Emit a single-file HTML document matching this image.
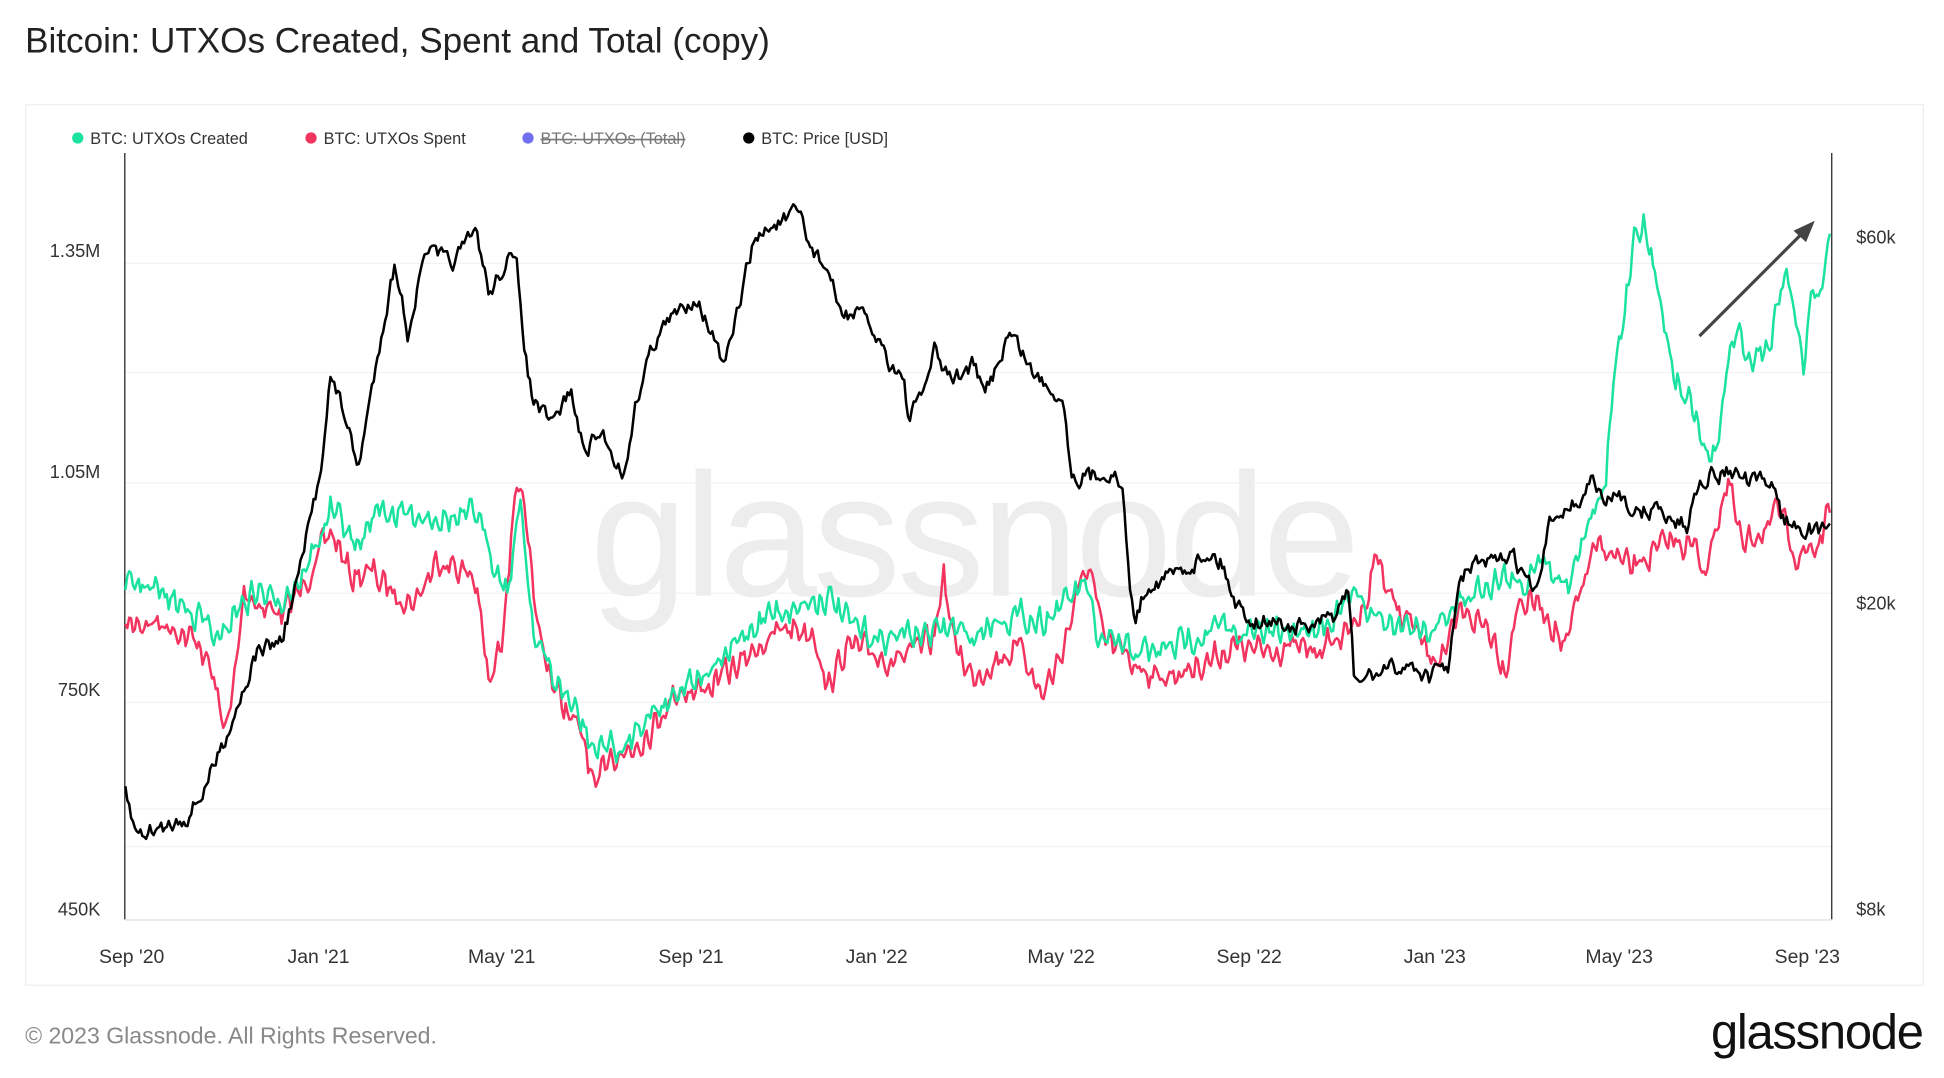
<!DOCTYPE html>
<html><head><meta charset="utf-8"><style>
html,body{margin:0;padding:0;background:#fff;width:1944px;height:1078px;overflow:hidden}
svg{display:block}
text{font-family:"Liberation Sans",sans-serif}
</style></head><body>
<svg id="s" width="1944" height="1078" viewBox="0 0 1550 859.5" preserveAspectRatio="none">
<text x="20" y="42" font-size="28" fill="#222">Bitcoin: UTXOs Created, Spent and Total (copy)</text>
<rect x="20.5" y="83.5" width="1513" height="702" fill="#fff" stroke="#eee"/>
<g font-size="13" fill="#333">
<circle cx="62" cy="110" r="4.5" fill="#1be2a0"/><text x="72" y="115">BTC: UTXOs Created</text>
<circle cx="248" cy="110" r="4.5" fill="#f2345f"/><text x="258" y="115">BTC: UTXOs Spent</text>
<circle cx="421" cy="110" r="4.5" fill="#6f6fef"/><text x="431" y="115" fill="#777" text-decoration="line-through">BTC: UTXOs (Total)</text>
<circle cx="597" cy="110" r="4.5" fill="#000"/><text x="607" y="115">BTC: Price [USD]</text>
</g>
<g stroke="#f2f2f2" stroke-width="1">
<line x1="100" x2="1460" y1="210" y2="210"/><line x1="100" x2="1460" y1="297" y2="297"/>
<line x1="100" x2="1460" y1="385" y2="385"/><line x1="100" x2="1460" y1="473" y2="473"/>
<line x1="100" x2="1460" y1="560" y2="560"/><line x1="100" x2="1460" y1="645" y2="645"/>
<line x1="100" x2="1460" y1="675" y2="675"/>
</g>
<text x="776" y="475" font-size="140" fill="#ededed" text-anchor="middle" letter-spacing="-3">glassnode</text>
<line x1="99.5" y1="122" x2="99.5" y2="733" stroke="#222"/>
<line x1="1460.5" y1="122" x2="1460.5" y2="733" stroke="#222"/>
<line x1="100" y1="733.5" x2="1460" y2="733.5" stroke="#ddd"/>
<g font-size="14.5" fill="#333" text-anchor="end">
<text x="80" y="205">1.35M</text><text x="80" y="381">1.05M</text><text x="80" y="555">750K</text><text x="80" y="730">450K</text>
</g>
<g font-size="14.5" fill="#333">
<text x="1480" y="194">$60k</text><text x="1480" y="486">$20k</text><text x="1480" y="730">$8k</text>
</g>
<g font-size="15.5" fill="#333" text-anchor="middle">
<text x="105" y="768">Sep '20</text><text x="254" y="768">Jan '21</text><text x="400" y="768">May '21</text>
<text x="551" y="768">Sep '21</text><text x="699" y="768">Jan '22</text><text x="846" y="768">May '22</text>
<text x="996" y="768">Sep '22</text><text x="1144" y="768">Jan '23</text><text x="1291" y="768">May '23</text>
<text x="1441" y="768">Sep '23</text>
</g>
<g id="series"></g>
<line x1="1355" y1="268" x2="1438" y2="185" stroke="#444" stroke-width="2.5"/>
<polygon points="1447,176 1430,184 1440,193" fill="#444"/>
<text x="20" y="832" font-size="18.4" fill="#888">© 2023 Glassnode. All Rights Reserved.</text>
<text x="1533" y="836" font-size="39" fill="#111" text-anchor="end" letter-spacing="-1">glassnode</text>
</svg>
<script>
var price=[[100,630],[108,665],[130,660],[150,650],[160,635],[175,600],[190,560],[205,520],[225,510],[240,450],[255,380],[263,300],[275,330],[285,375],[295,320],[305,260],[315,210],[325,265],[340,200],[360,210],[380,185],[390,235],[405,205],[412,215],[420,290],[425,320],[440,340],[455,310],[465,360],[480,345],[498,380],[505,330],[515,290],[525,265],[545,245],[555,235],[565,260],[578,295],[590,240],[600,195],[615,180],[628,175],[638,170],[645,195],[660,215],[670,250],[685,250],[700,270],[710,290],[720,300],[725,335],[735,315],[745,280],[755,300],[765,300],[775,290],[785,315],[795,290],[805,265],[815,280],[825,300],[840,310],[848,320],[855,380],[870,380],[885,375],[895,390],[900,460],[905,495],[915,465],[930,460],[950,450],[965,440],[975,450],[985,480],[1000,495],[1015,495],[1030,500],[1050,500],[1065,490],[1075,470],[1080,545],[1090,540],[1105,535],[1125,530],[1140,540],[1155,530],[1165,460],[1175,450],[1195,450],[1205,440],[1215,460],[1225,475],[1235,420],[1245,405],[1260,400],[1270,380],[1280,405],[1290,390],[1305,410],[1320,405],[1335,415],[1345,420],[1355,380],[1370,378],[1380,375],[1395,385],[1415,385],[1420,410],[1430,420],[1440,420],[1450,425],[1460,415]];
var green=[[100,470],[115,465],[130,475],[160,490],[175,515],[185,490],[205,470],[220,480],[240,460],[255,430],[263,405],[275,420],[285,440],[300,405],[320,410],[345,410],[365,415],[380,410],[395,450],[405,470],[415,400],[425,500],[440,540],[455,560],[465,580],[475,600],[485,590],[495,605],[510,575],[530,560],[550,540],[570,535],[590,510],[610,490],[630,485],[660,475],[680,500],[700,510],[720,505],[740,505],[760,500],[775,510],[790,495],[810,490],[830,495],[850,480],[865,465],[875,510],[890,515],[905,520],[925,520],[945,510],[970,500],[985,505],[1000,505],[1020,505],[1040,500],[1060,495],[1080,475],[1095,490],[1110,500],[1125,495],[1140,505],[1150,490],[1165,480],[1185,465],[1200,460],[1215,470],[1225,440],[1235,450],[1250,465],[1265,420],[1280,390],[1287,300],[1295,250],[1303,185],[1310,175],[1318,215],[1325,240],[1333,290],[1340,310],[1347,315],[1355,345],[1365,370],[1372,340],[1378,285],[1385,265],[1395,285],[1410,275],[1425,220],[1432,250],[1438,290],[1445,230],[1452,240],[1458,200],[1460,180]];
var red=[[100,500],[120,495],[140,500],[160,515],[170,540],[178,580],[185,560],[195,470],[205,480],[225,490],[240,470],[255,440],[265,425],[280,460],[295,455],[310,470],[330,480],[350,445],[370,455],[380,465],[390,550],[400,510],[408,420],[413,375],[420,430],[430,510],[445,555],[460,580],[468,600],[475,635],[485,600],[500,600],[520,580],[540,550],[560,550],[575,540],[590,530],[610,510],[630,500],[650,505],[660,550],[675,515],[690,520],[710,525],[730,520],[745,510],[752,455],[760,510],[775,540],[795,525],[815,515],[830,555],[845,525],[860,470],[868,450],[880,510],[900,525],[925,540],[945,535],[965,525],[985,515],[1005,520],[1025,515],[1045,520],[1065,510],[1080,500],[1090,475],[1097,440],[1105,465],[1115,490],[1125,495],[1140,525],[1155,515],[1165,490],[1180,495],[1190,505],[1200,535],[1210,480],[1225,480],[1240,500],[1248,520],[1255,490],[1270,440],[1285,440],[1300,455],[1320,440],[1335,430],[1350,435],[1360,455],[1370,410],[1378,385],[1390,440],[1405,420],[1420,410],[1430,440],[1440,440],[1450,435],[1460,400]];
var seed=7;function rnd(){seed=(seed*16807)%2147483647;return seed/2147483647;}
function interp(p,x){for(var i=1;i<p.length;i++){if(x<=p[i][0]){var a=p[i-1],b=p[i];return a[1]+(b[1]-a[1])*(x-a[0])/(b[0]-a[0]);}}return p[p.length-1][1];}
function build(p,amp,col,w,osc){var d="",n=0;for(var x=100;x<=1460;x+=1.5){n=n*0.5+(rnd()-0.5)*amp;var o=osc?Math.sin(x*0.9)*osc:0;var y=interp(p,x)+n+o;d+=(d?"L":"M")+x.toFixed(1)+","+y.toFixed(1);}
var e=document.createElementNS("http://www.w3.org/2000/svg","path");e.setAttribute("d",d);e.setAttribute("fill","none");e.setAttribute("stroke",col);e.setAttribute("stroke-width",w);e.setAttribute("stroke-linejoin","round");document.getElementById("series").appendChild(e);}
build(red,14,"#f2345f",2,5);
build(green,14,"#1be2a0",2,5);
build(price,12,"#000",2,0);
</script>
</body></html>
